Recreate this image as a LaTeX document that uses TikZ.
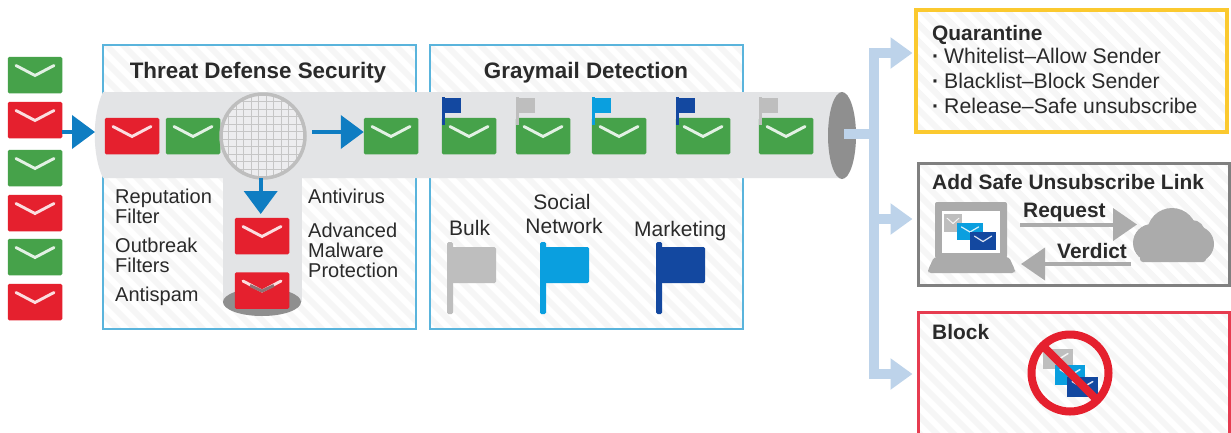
\documentclass[tikz,border=0pt]{standalone}
\usepackage{fontspec}
\setmainfont{Liberation Sans}
\usetikzlibrary{arrows.meta,calc}
\definecolor{mgreen}{HTML}{46A24A}
\definecolor{mred}{HTML}{E5202E}
\definecolor{tubegray}{HTML}{E3E4E6}
\definecolor{endgray}{HTML}{8F8F8F}
\definecolor{boxblue}{HTML}{5AB4DC}
\definecolor{busblue}{HTML}{BDD3EA}
\definecolor{flowblue}{HTML}{0F7DC2}
\definecolor{fdark}{HTML}{1348A0}
\definecolor{flight}{HTML}{0A9FDF}
\definecolor{fgray}{HTML}{BEBEBE}
\definecolor{cgray}{HTML}{ABABAB}
\definecolor{qyellow}{HTML}{FBC92F}
\definecolor{bgray}{HTML}{808080}
\definecolor{bred}{HTML}{E63C50}
\definecolor{stripe}{HTML}{F6F6F6}
\definecolor{txt}{HTML}{2A2A2A}
\tikzset{
  envbox/.style={rounded corners=1.5pt,minimum width=54.5pt,minimum height=36.5pt,inner sep=0pt,outer sep=0pt},
  envv/.style={draw=#1,line width=2.9pt,line cap=round,line join=miter},
  head/.style={font=\fontsize{22.4}{23}\bfseries\selectfont,text=txt,inner sep=0pt,anchor=base},
  headl/.style={font=\fontsize{20.9}{22}\bfseries\selectfont,text=txt,inner sep=0pt,anchor=base west},
  lbl/.style={font=\fontsize{20}{20}\selectfont,text=txt,inner sep=0pt,anchor=base west},
  lblg/.style={font=\fontsize{21}{21}\selectfont,text=txt,inner sep=0pt,anchor=base west},
  lblc/.style={font=\fontsize{21}{21}\selectfont,text=txt,inner sep=0pt,anchor=base},
  lblr/.style={font=\fontsize{21.2}{22}\selectfont,text=txt,inner sep=0pt,anchor=base west},
  flowarrow/.style={draw=flowblue,line width=4pt,-{Triangle[length=23pt,width=33pt]}},
  busarrow/.style={draw=busblue,line width=10pt,-{Triangle[length=22pt,width=30pt]}},
  grayarrow/.style={draw=cgray,line width=4pt,-{Triangle[length=24pt,width=32pt]}},
  smallenv/.style={inner sep=0pt,outer sep=0pt},
}
\newcommand{\mailicon}[4]{% name, x, y, colour
  \node[envbox,fill=#4] (#1) at (#2,#3) {};
  \draw[envv={white!85!#4}] ($(#1.center)+(-19,-9.5)$) -- ($(#1.center)+(0,0.5)$) -- ($(#1.center)+(19,-9.5)$);
}
\newcommand{\tinymail}[7]{% name, x1,y1,x2,y2, colour, v width
  \path[fill=#6] (#2,#3) rectangle (#4,#5);
  \node[smallenv] (#1) at ({(#2+#4)/2},{(#3+#5)/2}) {};
  \draw[white!85!#6,line width=#7pt,line cap=round] ($(#1)+({-(#4-#2)*0.33},{-(#5-#3)*0.27})$) -- ($(#1)+(0,{(#5-#3)*0.03})$) -- ($(#1)+({(#4-#2)*0.33},{-(#5-#3)*0.27})$);
}
\newcommand{\stripedbox}[7]{% x1,y1,x2,y2,border,name,width
  \begin{scope}
    \clip (#1,#2) rectangle (#3,#4);
    \fill[white] (#1,#2) rectangle (#3,#4);
    \foreach \s in {-500,-483,...,1700}
      \draw[stripe,line width=6pt] (\s,0) -- (\s+440,440);
  \end{scope}
  \node[draw=#5,line width=#7pt,minimum width={(#3-#1)*1pt},minimum height={(#4-#2)*1pt},inner sep=0pt,outer sep=0pt] (#6) at ({(#1+#3)/2},{(#2+#4)/2}) {};
}
\newcommand{\smallflag}[2]{% x, colour
  \fill[#2] (#1,98) rectangle (#1+19,113);
  \fill[#2] (#1-0.5,97) rectangle (#1+2.5,125);
}
\newcommand{\bigflag}[2]{%
  \fill[#2,rounded corners=1.5pt] (#1,247) rectangle (#1+49,283);
  \fill[#2,rounded corners=1.5pt] (#1,242) rectangle (#1+6,314);
}
\begin{document}
\begin{tikzpicture}[x=1pt,y=-1pt]
\useasboundingbox (0,0) rectangle (1231,432);
\fill[white] (0,0) rectangle (1231,432);

% striped boxes
\stripedbox{103}{45}{416}{329}{boxblue}{threatbox}{2.6}
\stripedbox{430}{45}{743}{329}{boxblue}{graybox}{2.6}
\stripedbox{916}{10}{1227}{132}{qyellow}{quarbox}{3.2}
\stripedbox{918}{163}{1229}{285}{bgray}{safebox}{3}
\stripedbox{918}{312}{1229}{440}{bred}{blockbox}{3}

% tube, chute
\fill[tubegray] (103,92) -- (842,92) -- (842,178) -- (103,178) .. controls (92,155) and (92,115) .. (103,92) -- cycle;
\fill[tubegray] (223,170) rectangle (302,302);
\fill[endgray] (262,302) ellipse [x radius=39,y radius=14];
\fill[endgray] (842,135.5) ellipse [x radius=14,y radius=43.5];

% left envelopes
\mailicon{la}{35}{75}{mgreen}
\mailicon{lb}{35}{120}{mred}
\mailicon{lc}{35}{168}{mgreen}
\mailicon{ld}{35}{213}{mred}
\mailicon{le}{35}{257}{mgreen}
\mailicon{lf}{35}{302}{mred}

% tube envelopes
\mailicon{ta}{132}{136}{mred}
\mailicon{tb}{193}{136}{mgreen}
\mailicon{tc}{391}{136}{mgreen}
\mailicon{ga}{469}{136}{mgreen}
\mailicon{gb}{543}{136}{mgreen}
\mailicon{gc}{619}{136}{mgreen}
\mailicon{gd}{703}{136}{mgreen}
\mailicon{ge}{786}{136}{mgreen}
\mailicon{da}{262}{236}{mred}
\node[envbox,fill=mred] (db) at (262,290.5) {};
\draw[draw=white!85!mred,line width=2.9pt,line cap=round] ($(db.center)+(-19,-9.5)$) -- ($(db.center)+(0,0.5)$) -- ($(db.center)+(19,-9.5)$);
\draw[draw=gray!85!mred,line width=2.9pt] ($(db.center)+(-12,-5)$) -- ($(db.center)+(0,0.5)$) -- ($(db.center)+(12,-5)$);

% small flags
\smallflag{442}{fdark}
\smallflag{516}{fgray}
\smallflag{592}{flight}
\smallflag{676}{fdark}
\smallflag{759}{fgray}

% filter
\begin{scope}
  \clip (263,136) circle (42);
  \fill[white!35!tubegray] (263,136) circle (42);
  \foreach \v in {-42,-34.5,...,42} {
    \draw[gray!45,line width=0.7pt] (263+\v,94) -- (263+\v,178);
    \draw[gray!45,line width=0.7pt] (221,136+\v) -- (305,136+\v);
  }
\end{scope}
\node[circle,draw=fgray,line width=3.5pt,minimum size=84pt,inner sep=0pt,outer sep=0pt] (filter) at (263,136) {};

% flow arrows
\coordinate (inTip) at (95,132);
\coordinate (downTip) at (260.7,214);
\draw[flowarrow] (lb.east |- inTip) -- (inTip);
\draw[flowarrow] (312,132) -- (tc.west |- inTip);
\draw[flowarrow] (filter.south -| downTip) -- (downTip);

% bus
\coordinate (busTop) at (873.5,53);
\coordinate (busMid) at (873.5,219);
\coordinate (busBot) at (873.5,374);
\coordinate (stubL) at (844,134);
\draw[busblue,line width=10pt] (stubL) -- (stubL -| busTop);
\draw[busblue,line width=10pt,line cap=rect] (busTop) -- (busBot);
\draw[busarrow] (busTop) -- ([xshift=-3.5pt]busTop -| quarbox.west);
\draw[busarrow] (busMid) -- ([xshift=-5.5pt]busMid -| safebox.west);
\draw[busarrow] (busBot) -- ([xshift=-5.5pt]busBot -| blockbox.west);

% big flags
\bigflag{447}{fgray}
\bigflag{540}{flight}
\bigflag{656}{fdark}

% texts
\node[head] (t1) at (258,78) {Threat Defense Security};
\node[head] (t2) at (586,78) {Graymail Detection};
\node[lbl] (a1) at (115,203) {Reputation};
\node[lbl] (a2) at (115,223) {Filter};
\node[lbl] (a3) at (115,252) {Outbreak};
\node[lbl] (a4) at (115,272) {Filters};
\node[lbl] (a5) at (115,301) {Antispam};
\node[lbl] (b1) at (308,203) {Antivirus};
\node[lbl] (b2) at (308,237) {Advanced};
\node[lbl] (b3) at (308,257) {Malware};
\node[lbl] (b4) at (308,277) {Protection};
\node[lblg] (c1) at (449,235) {Bulk};
\node[lblc] (c2) at (562,209) {Social};
\node[lblc] (c3) at (564,233) {Network};
\node[lblg] (c4) at (634,236) {Marketing};

\node[headl] (q0) at (932,40) {Quarantine};
\node[lblr,font=\fontsize{21.2}{22}\bfseries\selectfont] (q1) at (932,63) {·};
\node[lblr,font=\fontsize{21.2}{22}\bfseries\selectfont] (q2) at (932,88) {·};
\node[lblr,font=\fontsize{21.2}{22}\bfseries\selectfont] (q3) at (932,113) {·};
\node[lblr] (q1t) at (944,63) {Whitelist–Allow Sender};
\node[lblr] (q2t) at (944,88) {Blacklist–Block Sender};
\node[lblr] (q3t) at (944,113) {Release–Safe unsubscribe};
\node[headl] (s0) at (932,189) {Add Safe Unsubscribe Link};
\node[headl] (s1) at (1023,217) {Request};
\node[headl] (s2) at (1057,258) {Verdict};
\node[headl] (k0) at (932,339) {Block};

% laptop
\fill[cgray,rounded corners=2pt] (935,202) rectangle (1007,258);
\fill[white] (942,211) rectangle (1000,253);
\fill[cgray,rounded corners=3pt] (934,257) -- (1009,257) -- (1015,270) -- (1015,273) -- (928,273) -- (928,270) -- cycle;
\tinymail{ma}{944}{214}{962}{232}{fgray}{1}
\tinymail{mb}{957}{223}{983}{240}{flight}{1.2}
\tinymail{mc}{970}{232}{996}{250}{fdark}{1.2}

% cloud
\fill[cgray] (1152,243) circle (19);
\fill[cgray] (1196,244) circle (18);
\fill[cgray] (1172,233) circle (25);
\fill[cgray] (1192,233) circle (13);
\fill[cgray,rounded corners=3pt] (1140,240) rectangle (1206,262);

% request/verdict
\draw[grayarrow] (1020,224.5) -- (1137,224.5);
\draw[grayarrow] (1131,264) -- (1021,264);

% block symbol
\tinymail{na}{1043}{349}{1073}{369}{fgray}{1.5}
\tinymail{nb}{1055}{365}{1085}{385}{flight}{1.5}
\tinymail{nc}{1067}{377}{1098}{397}{fdark}{1.5}
\node[circle,draw=mred,line width=8pt,minimum size=77pt,inner sep=0pt,outer sep=0pt] (nosign) at (1070,373) {};
\draw[mred,line width=8pt] (nosign.north west) -- (nosign.south east);
\end{tikzpicture}
\end{document}
